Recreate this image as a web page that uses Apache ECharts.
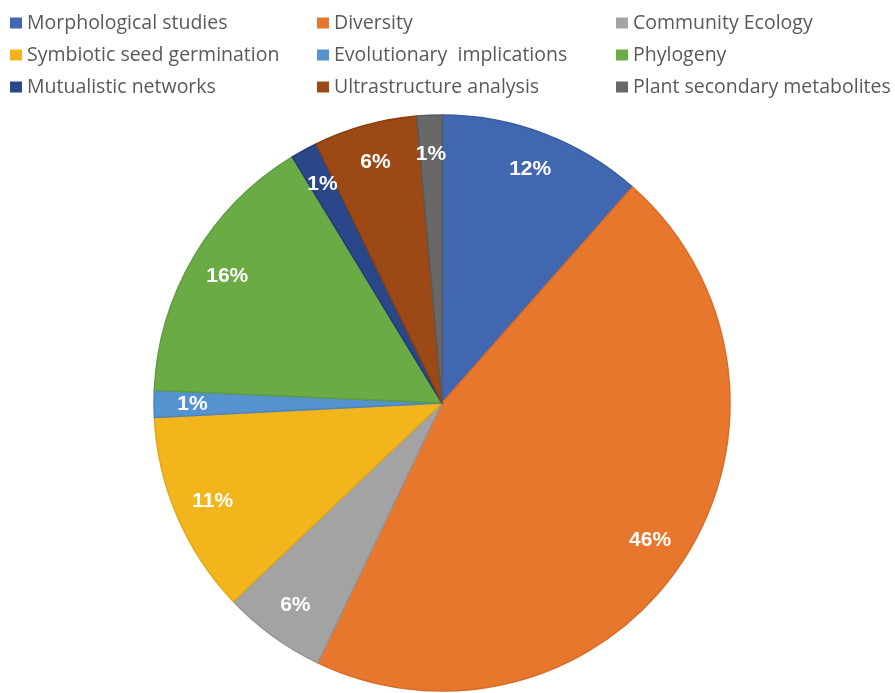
<!DOCTYPE html>
<html>
<head>
<meta charset="utf-8">
<script src="https://cdn.jsdelivr.net/npm/echarts@6/dist/echarts.min.js"></script>
<style>
html,body{margin:0;padding:0;background:#fff;}
#chart{width:895px;height:693px;}
</style>
</head>
<body>
<div id="chart"></div>
<script>
const categories = ["Morphological studies","Diversity","Community Ecology","Symbiotic seed germination","Evolutionary  implications","Phylogeny","Mutualistic networks","Ultrastructure analysis","Plant secondary metabolites"];
const shares = [11.5, 45.6, 5.8, 11.3, 1.5, 15.6, 1.5, 5.8, 1.4];
const labelTexts = ["12%","46%","6%","11%","1%","16%","1%","6%","1%"];
const colors = ["#4267B1","#E8772E","#A3A3A3","#F2B61C","#5592D0","#6AAB46","#294789","#9C4915","#686868"];
const borders = ["#3A5C9F","#D86C28","#959595","#E0A814","#4C85BF","#5F9C3E","#223C77","#8A3F10","#5A5A5A"];

const legendCols = [[0,3,6],[1,4,7],[2,5,8]];
const legendLeft = [10, 317, 616];

const chart = echarts.init(document.getElementById('chart'), null, {renderer:'canvas'});
const center = [442, 403];
const R = 288;

const mainData = categories.map((n,i)=>({name:n, value:shares[i], itemStyle:{color:colors[i], borderColor:borders[i], borderWidth:1.5}}));
const labelData = categories.map((n,i)=>({name:n, value:shares[i], label:{formatter:labelTexts[i]}}));

chart.setOption({
  animation:false,
  color: colors,
  legend: legendCols.map((col,ci)=>({
    orient:'vertical',
    left: legendLeft[ci],
    top: 12,
    padding:0,
    icon:'rect',
    itemWidth:12,
    itemHeight:11,
    itemGap:10,
    selectedMode:false,
    data: col.map(i=>({name:categories[i], itemStyle:{color:colors[i], borderWidth:0}})),
    textStyle:{fontFamily:'Open Sans, Noto Sans, sans-serif', fontSize:19.5, color:'#595959', lineHeight:22}
  })),
  series:[
    {
      type:'pie',
      center:center,
      radius:[0,R],
      startAngle:90,
      clockwise:true,
      label:{show:false},
      labelLine:{show:false},
      emphasis:{disabled:true},
      data: mainData
    },
    {
      type:'pie',
      center:center,
      radius:[205,R],
      startAngle:90,
      clockwise:true,
      silent:true,
      legendHoverLink:false,
      avoidLabelOverlap:false,
      itemStyle:{color:'rgba(0,0,0,0)', borderWidth:0},
      label:{show:true, position:'inside', color:'#fff', fontWeight:'bold', fontSize:21, fontFamily:'Liberation Sans, Arial, sans-serif'},
      labelLine:{show:false},
      emphasis:{disabled:true},
      data: labelData
    }
  ]
});
</script>
</body>
</html>
